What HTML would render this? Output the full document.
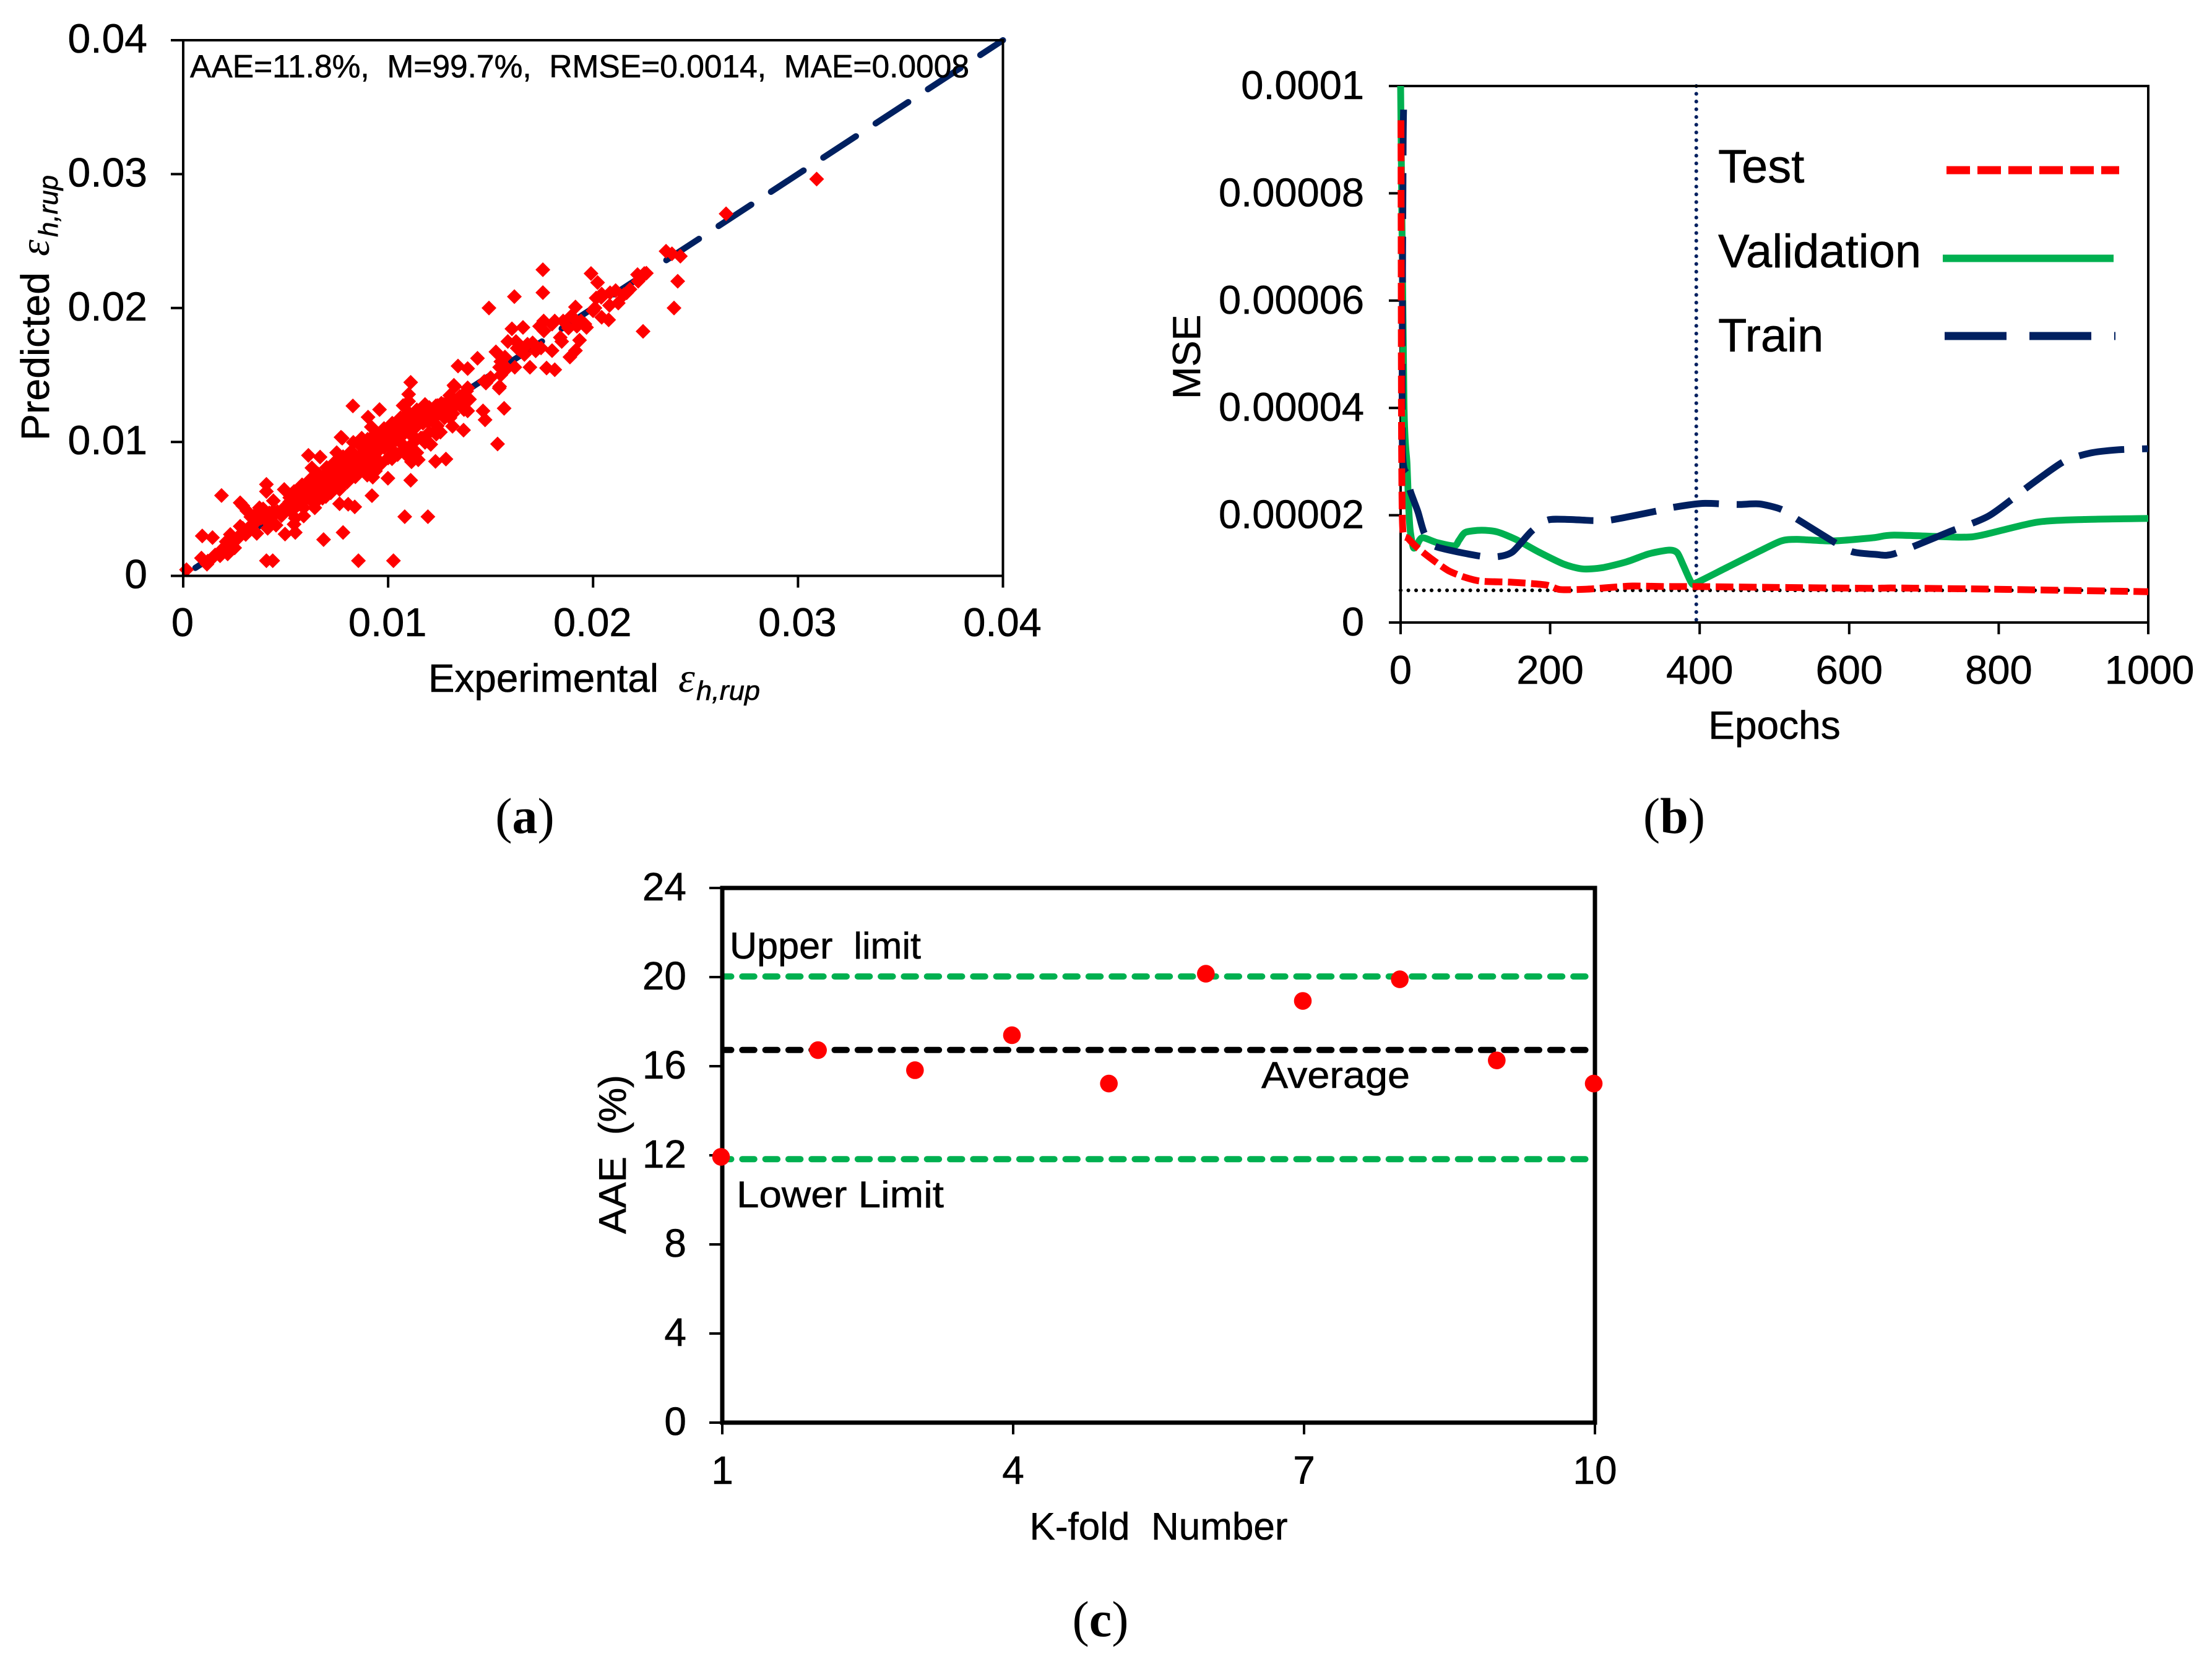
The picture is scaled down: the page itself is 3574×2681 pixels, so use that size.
<!DOCTYPE html>
<html lang="en">
<head>
<meta charset="utf-8">
<title>Model performance charts</title>
<style>
html,body{margin:0;padding:0;background:#fff;}
svg{display:block;}
text{font-family:"Liberation Sans",sans-serif;fill:#000;white-space:pre;stroke:#000;stroke-width:0.6;}
.serif{font-family:"Liberation Serif",serif;stroke-width:0;}
</style>
</head>
<body>
<svg id="fig" xmlns="http://www.w3.org/2000/svg" width="3574" height="2681" viewBox="0 0 3574 2681">
<rect width="3574" height="2681" fill="#fff"/>
<g id="panelA"></g>
<g id="panelB"></g>
<g id="panelC"></g>

<text x="307" y="125" font-size="52" textLength="1259" lengthAdjust="spacingAndGlyphs">AAE=11.8%,  M=99.7%,  RMSE=0.0014,  MAE=0.0008</text>
<text x="692" y="1118" font-size="64" textLength="372" lengthAdjust="spacingAndGlyphs">Experimental</text>
<text class="serif" x="1096" y="1118" font-size="68" font-style="italic">ε</text>
<text x="1125" y="1131" font-size="44" font-style="italic" textLength="103" lengthAdjust="spacingAndGlyphs">h,rup</text>
<g transform="translate(79,712) rotate(-90)">
<text x="0" y="0" font-size="64" textLength="272" lengthAdjust="spacingAndGlyphs">Predicted</text>
<text class="serif" x="298" y="0" font-size="68" font-style="italic">ε</text>
<text x="329" y="14" font-size="44" font-style="italic" textLength="100" lengthAdjust="spacingAndGlyphs">h,rup</text>
</g>
<text class="serif" x="848" y="1346" font-size="82" text-anchor="middle">(<tspan font-weight="bold">a</tspan>)</text>

<text x="2867" y="1194" font-size="64" text-anchor="middle">Epochs</text>
<text transform="translate(1939,645) rotate(-90)" x="0" y="0" font-size="63">MSE</text>
<text x="2776" y="295" font-size="76">Test</text>
<text x="2776" y="432" font-size="76">Validation</text>
<text x="2776" y="568" font-size="76">Train</text>
<line x1="3145" y1="275" x2="3424" y2="275" stroke="#ff0000" stroke-width="13" stroke-dasharray="38 12"/>
<line x1="3139" y1="417.5" x2="3415" y2="417.5" stroke="#00b050" stroke-width="12"/>
<line x1="3142" y1="543" x2="3418" y2="543" stroke="#002060" stroke-width="13" stroke-dasharray="100 37"/>
<text class="serif" x="2705" y="1346" font-size="82" text-anchor="middle">(<tspan font-weight="bold">b</tspan>)</text>

<text x="1872" y="2488" font-size="62" text-anchor="middle" textLength="417" lengthAdjust="spacingAndGlyphs">K-fold  Number</text>
<text transform="translate(1011,1994) rotate(-90)" x="0" y="0" font-size="62" textLength="257" lengthAdjust="spacingAndGlyphs">AAE  (%)</text>
<text x="1179" y="1549" font-size="60" textLength="309" lengthAdjust="spacingAndGlyphs">Upper  limit</text>
<text x="1190" y="1951" font-size="60" textLength="335" lengthAdjust="spacingAndGlyphs">Lower Limit</text>
<text x="2038" y="1758" font-size="60" textLength="240" lengthAdjust="spacingAndGlyphs">Average</text>
<text class="serif" x="1778" y="2644" font-size="82" text-anchor="middle">(<tspan font-weight="bold">c</tspan>)</text>
</svg>

<script>
// ---------- Panel (a) data ----------
const scatterTicks = ["0", "0.01", "0.02", "0.03", "0.04"];
const scatterTickValues = [0, 0.01, 0.02, 0.03, 0.04];
const experimental = [
.00016,.00093,.00143,.00187,.00278,.00311,.00406,.00406,.0044,.00406,
.00437,.00497,.00547,.00611,.00668,.00628,.00685,.0078,.00855,.01026,
.01081,.01194,.00921,.0111,.00763,.00837,.00805,.01534,.01231,.01282,
.01114,.01147,.00828,.00958,.00902,.00918,.0111,.011,.01325,.01477,
.01542,.0155,
.00089,.00116,.00156,.00183,.00217,.00251,.0021,.0023,.0024,.00278,
.00305,.00359,.00412,.00453,.00345,.00386,.00291,.00426,.00359,.00372,
.0044,.00291,.00493,.0052,.00547,.00493,.00541,.00588,.00642,.00534,
.00601,.00628,.00668,.00696,.00763,.00655,.00709,.00749,.00776,.0083,
.00817,.00763,.0083,.00898,.00925,.00999,.00938,.00884,.00871,.00925,
.00979,.01032,.01073,.01073,.011,.01174,.01201,.01241,.01302,.01343,
.01316,.01275,.01235,.01208,.0114,.01087,.01019,.00965,.01167,.01113,
.01073,.01019,.00952,.00898,.00844,.00776,.00722,.00668,.00628,.00588,
.00979,.0106,.0114,.01194,.01235,.01275,.0114,.01127,
.00871,.00925,.00898,.00965,.01006,.0106,.011,.01113,.01167,.01221,
.0083,.0079,.00749,.00709,.00682,.00642,.00615,.00574,.0052,.00534,
.00588,.00541,.00642,.00682,.00736,.00803,.00871,.00952,.01046,.01113,
.0118,.01235,.01255,.01302,.0137,.01397,.01383,.0077,
.03091,.02649,.02356,.02385,.02426,.02413,.02395,.02244,.01755,.01755,
.01616,.01492,.0199,.02022,.02217,.0223,.0225,.0211,.02042,.02164,
.02123,.02015,.02083,.01914,.02009,.01941,.02042,.02076,.01759,.01813,
.01739,.01854,.01894,.01921,.01968,.01604,.01658,.01705,.01624,.01584,
.01526,.01436,.01341,.01388,.0157,.01544,.01544,.01469,.01618,.01692,
.01773,.01813,.01887,.01914,.01934,.01847,.018,.01746,.01665,.01638,
.01388,.01321,.01301,.0126,.01355,.01388,.01314,.01274,.01233,.01463,
.01473,.01566,.01314,.01368,
.0046,.0048,.005,.0052,.0054,.0056,.0057,.0059,.0061,.0062,
.0064,.0065,.0067,.0068,.007,.0071,.0073,.0074,.0076,.0077,
.0079,.008,.0081,.0083,.0084,.0086,.0087,.0089,.009,.0092,
.0093,.0095,.0096,.0098,.0099,.0101,.0102,.0104,.0105,.0107,
.0108,.011,.0111,.0113,.0115,.0117,.0119,.0121,.0123,.0125,
.0127,.0129,.0131,.0133,.0135,.0137,
.0028,.003,.0032,.0034,.0036,.0038,.004,.0042,.0044,.0033,
.0036,.0039,.0026,.0018,.0014,.0012,
.0163,.0168,.0172,.0176,.018,.0184,.0188,.0192,.0196,.02,
.0204,.0208,.0215,.0218,.0222,.0226,.0155,.0158,.015,
.0058,.0062,.0066,.007,.0074,.0078,.0082,.0086,.009,.0094,
.0098,.0102,.0106,.011,.0114,.0118,
.0064,.0068,.0072,.0076,.008,.0084,.0088,.0092,.0096,.01,
.0104,.0108,.0112,.0116,.012,.0124
];
const predicted = [
.00046,.00298,.00286,.0060,.00546,.00485,.00683,.0063,.00561,.00113,
.00113,.00312,.00324,.009,.00887,.00806,.00271,.00324,.00113,.00113,
.00442,.00442,.00599,.00714,.00538,.00515,.00535,.00985,.00855,.00872,
.00852,.00867,.01269,.01242,.01185,.01112,.01445,.01356,.01414,.0144,
.01402,.015,
.00133,.00087,.00156,.00187,.00164,.00209,.00255,.00309,.0027,.0037,
.00309,.00317,.00355,.00378,.00447,.00462,.00355,.00431,.00416,.00508,
.00485,.00523,.00492,.00584,.00431,.00645,.0063,.00508,.00508,.00523,
.0063,.00676,.00599,.00592,.00645,.00752,.00783,.0092,.01028,.00997,
.00905,.00829,.00783,.00752,.00737,.00729,.00783,.00905,.01028,.01043,
.01058,.01104,.0118,.01272,.01303,.01257,.01257,.01272,.01318,.01303,
.01211,.0118,.01058,.00982,.0092,.00905,.00875,.00836,.01028,.01058,
.01104,.01012,.00936,.00936,.00875,.00798,.00722,.00676,.00615,.00599,
.00982,.00997,.01119,.0115,.01196,.01242,.01196,.01028,
.00905,.00905,.00982,.01028,.00966,.01058,.01119,.0118,.0118,.01211,
.00905,.00875,.00813,.00752,.00691,.0063,.00584,.00538,.00553,.00492,
.00447,.00385,.00553,.00645,.00676,.00752,.00798,.00844,.00905,.00951,
.00997,.01089,.01073,.0118,.01242,.01318,.0138,.01035,
.02963,.02704,.02424,.02405,.02387,.022,.02,.01826,.02286,.02115,
.02085,.02,.02258,.0219,.0225,.0222,.02258,.0213,.02104,.02114,
.02037,.02075,.02114,.02008,.02,.01903,.01931,.01912,.01903,.01903,
.01864,.01903,.01941,.01864,.01855,.01845,.01855,.0174,.0175,.0175,
.01673,.01625,.01567,.01548,.01634,.01558,.01414,.01452,.01558,.01558,
.01552,.01539,.01634,.01682,.0176,.0175,.01682,.01702,.01653,.01692,
.01404,.01423,.01347,.01289,.01309,.01232,.01251,.01232,.0127,.01232,
.01165,.01251,.01117,.01088,
.0048,.0045,.0052,.0049,.0056,.0053,.0059,.0056,.0063,.0059,
.0066,.0062,.0069,.0065,.0072,.0068,.0076,.0071,.0079,.0074,
.0082,.0078,.0085,.0081,.0088,.0084,.0091,.0087,.0094,.009,
.0097,.0093,.01,.0096,.0103,.0099,.0106,.0102,.0109,.0105,
.0112,.0108,.0115,.0111,.0118,.0114,.0122,.0118,.0125,.0122,
.0128,.0125,.0131,.0128,.0134,.0131,
.0031,.0033,.0036,.0038,.0041,.0043,.0042,.0047,.0046,.0044,
.0047,.005,.0027,.0015,.0013,.0011,
.017,.0173,.0168,.0183,.0188,.0178,.0185,.019,.0188,.0198,
.0208,.0202,.021,.0214,.022,.0226,.016,.0155,.0148,
.0068,.0072,.0076,.0081,.0085,.0089,.0093,.0098,.0102,.0106,
.011,.0114,.0118,.0122,.0124,.0128,
.0054,.0058,.0062,.0066,.007,.0074,.0078,.0082,.0085,.0088,
.0091,.0095,.0099,.0103,.0107,.0112
];
const parityLine = [0, 0.04];

// ---------- Panel (b) data ----------
const epochTicks = [0, 200, 400, 600, 800, 1000];
const mseTickValues = [0, 0.00002, 0.00004, 0.00006, 0.00008, 0.0001];
const mseTickLabels = ["0", "0.00002", "0.00004", "0.00006", "0.00008", "0.0001"];
const bestEpoch = 395.5;
const bestMse = 0.000006;
const validationEpochs = [0,4.5,8.6,10.7,12.8,17,21.2,28.8,48.7,71.9,78,86.7,107.8,129,154,184,218,243,269,302,332,359,370,378,389,395.5,437,480,509,530,577,632,660,750,778,851,914,1000];
const validationMse = [1e-4,4.1e-5,2.95e-5,2.18e-5,1.72e-5,1.4e-5,1.43e-5,1.58e-5,1.49e-5,1.43e-5,1.53e-5,1.68e-5,1.72e-5,1.69e-5,1.55e-5,1.32e-5,1.09e-5,1.0e-5,1.02e-5,1.13e-5,1.28e-5,1.35e-5,1.3e-5,1.07e-5,.74e-5,.74e-5,1.03e-5,1.33e-5,1.52e-5,1.55e-5,1.52e-5,1.58e-5,1.63e-5,1.59e-5,1.63e-5,1.87e-5,1.92e-5,1.94e-5];
const trainEpochs = [4,3.3,2.2,8.6,12.8,23,31.9,46,105.4,131,150,175,196.5,226,258,281,340,366,404,450,480,509,530,581,604,635,660,732,787,842,887,923,960,1000];
const trainMse = [9.56e-5,8.7e-5,3.4e-5,2.76e-5,2.46e-5,2.07e-5,1.66e-5,1.42e-5,1.24e-5,1.23e-5,1.32e-5,1.7e-5,1.91e-5,1.92e-5,1.9e-5,1.91e-5,2.07e-5,2.15e-5,2.22e-5,2.2e-5,2.21e-5,2.11e-5,1.93e-5,1.49e-5,1.32e-5,1.27e-5,1.28e-5,1.68e-5,1.99e-5,2.56e-5,3.0e-5,3.16e-5,3.22e-5,3.24e-5];
const testEpochs = [0.5,1,1.5,3,10,21.2,40,63.5,86.7,108,150,194.5,213,247,277,310,353,395,480,627,660,796,1000];
const testMse = [9.4e-5,5e-5,3e-5,1.72e-5,1.57e-5,1.41e-5,1.2e-5,.97e-5,.84e-5,.77e-5,.75e-5,.70e-5,.615e-5,.62e-5,.65e-5,.68e-5,.67e-5,.67e-5,.657e-5,.638e-5,.644e-5,.62e-5,.574e-5];
const trainDashEndEpoch = 105.4;
const testDashStartEpoch = 327.5;

// ---------- Panel (c) data ----------
const foldNumbers = [1,2,3,4,5,6,7,8,9,10];
const foldAae = [11.93,16.72,15.82,17.39,15.22,20.15,18.93,19.9,16.26,15.22];
const foldTicks = [1,4,7,10];
const aaeTicks = [0,4,8,12,16,20,24];
const upperLimit = 20;
const averageAae = 16.7;
const lowerLimit = 11.8;

// ---------- Helpers ----------
const NS = "http://www.w3.org/2000/svg";
function mk(parent, tag, attrs) {
  const el = document.createElementNS(NS, tag);
  for (const k in attrs) el.setAttribute(k, attrs[k]);
  parent.appendChild(el);
  return el;
}
function scale(d0, d1, r0, r1) {
  return v => r0 + (v - d0) / (d1 - d0) * (r1 - r0);
}
function smoothPath(xs, ys, sx, sy) {
  const p = xs.map((x, i) => [sx(x), sy(ys[i])]);
  let d = "M" + p[0][0].toFixed(1) + " " + p[0][1].toFixed(1);
  for (let i = 0; i < p.length - 1; i++) {
    const a = p[Math.max(i - 1, 0)], b = p[i], c = p[i + 1], e = p[Math.min(i + 2, p.length - 1)];
    const f = 1 / 8;
    const c1 = [b[0] + (c[0] - a[0]) * f, b[1] + (c[1] - a[1]) * f];
    const c2 = [c[0] - (e[0] - b[0]) * f, c[1] - (e[1] - b[1]) * f];
    d += "C" + c1[0].toFixed(1) + " " + c1[1].toFixed(1) + " " + c2[0].toFixed(1) + " " + c2[1].toFixed(1) + " " + c[0].toFixed(1) + " " + c[1].toFixed(1);
  }
  return d;
}
// Arc length along a rendered path up to the first point at or beyond screen x.
function lengthAtX(path, targetX) {
  const total = path.getTotalLength();
  for (let s = 0; s <= total; s += 1) {
    if (path.getPointAtLength(s).x >= targetX) return s;
  }
  return 0;
}

// ---------- Panel (a) ----------
(function () {
  const g = document.getElementById("panelA");
  const L = 296, R = 1620.5, T = 65, B = 930.6;
  const sx = scale(0, 0.04, L, R), sy = scale(0, 0.04, B, T);
  const parity = mk(g, "line", {x1: sx(parityLine[0]), y1: sy(parityLine[0]), x2: sx(parityLine[1]), y2: sy(parityLine[1]), stroke: "#002060", "stroke-width": 10, "stroke-linecap": "round", "stroke-dasharray": "63 38", "stroke-dashoffset": -23.5});
  
  
  experimental.forEach((x, i) => {
    const cx = sx(x), cy = sy(predicted[i]);
    const d = mk(g, "polygon", {points: (cx - 12) + "," + cy + " " + cx + "," + (cy - 12) + " " + (cx + 12) + "," + cy + " " + cx + "," + (cy + 12), fill: "#ff0000"});
    
    
  });
  const frame = mk(g, "rect", {x: L, y: T, width: R - L, height: B - T, fill: "none", stroke: "#000", "stroke-width": 4});
  
  
  scatterTickValues.forEach((v, i) => {
    const xt = mk(g, "line", {x1: sx(v), x2: sx(v), y1: B, y2: B + 19, stroke: "#000", "stroke-width": 4});
    
    
    const yt = mk(g, "line", {x1: L - 20, x2: L, y1: sy(v), y2: sy(v), stroke: "#000", "stroke-width": 4});
    
    
    const xl = mk(g, "text", {x: sx(v) - 1, y: 1028, "font-size": 65, "text-anchor": "middle"});
    xl.textContent = scatterTicks[i];
    
    
    const yl = mk(g, "text", {x: 238, y: sy(v) + 20, "font-size": 66, "text-anchor": "end"});
    yl.textContent = scatterTicks[i];
    
    
  });
})();

// ---------- Panel (b) ----------
(function () {
  const g = document.getElementById("panelB");
  const L = 2263, R = 3471, T = 139, B = 1006;
  const sx = scale(0, 1000, L, R), sy = scale(0, 0.0001, B, T);
  const hd = mk(g, "line", {x1: L, x2: R, y1: sy(bestMse), y2: sy(bestMse), stroke: "#000", "stroke-width": 6, "stroke-linecap": "round", "stroke-dasharray": "0.1 12.4"});
  
  
  const vd = mk(g, "line", {x1: sx(bestEpoch), x2: sx(bestEpoch), y1: T, y2: B, stroke: "#002060", "stroke-width": 6, "stroke-linecap": "round", "stroke-dasharray": "0.1 12.4"});
  
  
  const frame = mk(g, "rect", {x: L, y: T, width: R - L, height: B - T, fill: "none", stroke: "#000", "stroke-width": 4});
  
  
  epochTicks.forEach(v => {
    const t = mk(g, "line", {x1: sx(v), x2: sx(v), y1: B, y2: B + 19, stroke: "#000", "stroke-width": 4});
    
    
    const l = mk(g, "text", {x: v === 1000 ? sx(v) + 2 : sx(v), y: 1105, "font-size": 65, "text-anchor": "middle"});
    l.textContent = String(v);
    
    
  });
  mseTickValues.forEach((v, i) => {
    const t = mk(g, "line", {x1: L - 19, x2: L, y1: sy(v), y2: sy(v), stroke: "#000", "stroke-width": 4});
    
    
    const l = mk(g, "text", {x: 2204, y: sy(v) + 21, "font-size": 65, "text-anchor": "end"});
    l.textContent = mseTickLabels[i];
    
    
  });
  const val = mk(g, "path", {d: smoothPath(validationEpochs, validationMse, sx, sy), fill: "none", stroke: "#00b050", "stroke-width": 11});
  
  
  const tr = mk(g, "path", {d: smoothPath(trainEpochs, trainMse, sx, sy), fill: "none", stroke: "#002060", "stroke-width": 11});
  
  
  const trainLen = lengthAtX(tr, sx(trainDashEndEpoch));
  tr.setAttribute("stroke-dasharray", "74 28.7");
  tr.setAttribute("stroke-dashoffset", (74 - trainLen).toFixed(1));
  const te = mk(g, "path", {d: smoothPath(testEpochs, testMse, sx, sy), fill: "none", stroke: "#ff0000", "stroke-width": 11});
  
  
  const testLen = lengthAtX(te, sx(testDashStartEpoch));
  te.setAttribute("stroke-dasharray", "28.5 9");
  te.setAttribute("stroke-dashoffset", (-testLen).toFixed(1));
})();

// ---------- Panel (c) ----------
(function () {
  const g = document.getElementById("panelC");
  const L = 1167, R = 2577, T = 1435, B = 2299;
  const sx = scale(1, 10, L, R), sy = scale(0, 24, B, T);
  [[upperLimit, "#00b050", "upper-limit-line"], [averageAae, "#000", "average-line"], [lowerLimit, "#00b050", "lower-limit-line"]].forEach(r => {
    const l = mk(g, "line", {x1: L + 3, x2: R - 2, y1: sy(r[0]) - 1, y2: sy(r[0]) - 1, stroke: r[1], "stroke-width": 10, "stroke-linecap": "round", "stroke-dasharray": "19.5 17.8", "stroke-dashoffset": 8});
    
    
  });
  const frame = mk(g, "rect", {x: L, y: T, width: R - L, height: B - T, fill: "none", stroke: "#000", "stroke-width": 7});
  
  
  foldTicks.forEach(v => {
    const t = mk(g, "line", {x1: sx(v), x2: sx(v), y1: B, y2: B + 19, stroke: "#000", "stroke-width": 4});
    
    
    const l = mk(g, "text", {x: sx(v), y: 2398, "font-size": 64, "text-anchor": "middle"});
    l.textContent = String(v);
    
    
  });
  aaeTicks.forEach(v => {
    const t = mk(g, "line", {x1: L - 21, x2: L, y1: sy(v), y2: sy(v), stroke: "#000", "stroke-width": 4});
    
    
    const l = mk(g, "text", {x: 1109, y: sy(v) + 20, "font-size": 64, "text-anchor": "end"});
    l.textContent = String(v);
    
    
  });
  foldNumbers.forEach((f, i) => {
    const c = mk(g, "circle", {cx: sx(f) - 2, cy: sy(foldAae[i]), r: 14.3, fill: "#ff0000"});
    
    
  });
})();
</script>
</body>
</html>
